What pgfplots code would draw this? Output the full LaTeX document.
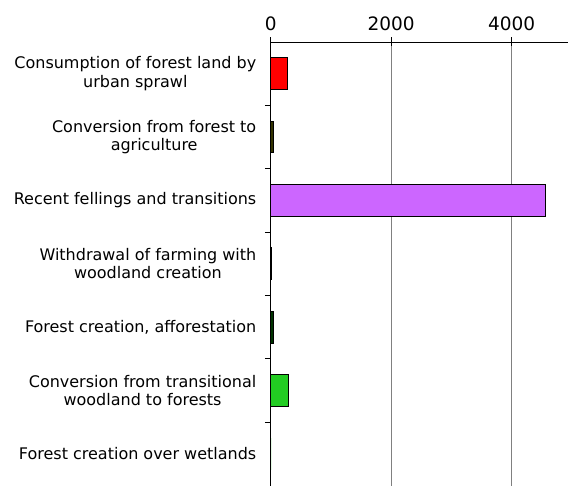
\documentclass[border=0pt]{standalone}
\usepackage{pgfplots}
\pgfplotsset{compat=1.18}
\usepackage{fontspec}
\setmainfont{DejaVu Sans}
\definecolor{barred}{HTML}{FF0000}
\definecolor{barolive}{HTML}{333300}
\definecolor{barpurple}{HTML}{CC66FF}
\definecolor{bardkgreen}{HTML}{003300}
\definecolor{bargreen}{HTML}{22CC22}
\begin{document}
\begin{tikzpicture}
    \begin{axis}[
        scale only axis,
        width = 297pt,
        height = 444pt,
        xmin = 0, xmax = 4930,
        ymin = -0.5, ymax = 6.5,
        axis x line* = top,
        axis y line* = left,
        axis line style = { line width = 0.9pt },
        xbar,
        bar width = 0.5,
        bar shift = 0pt,
        xtick = { 0, 2000, 4000 },
        xticklabel style = { font = \fontsize{18.5}{21}\selectfont, yshift = 3pt },
        /pgf/number format/1000 sep = {},
        /pgf/number format/assume math mode = true,
        x tick style = { line width = 0.9pt, black },
        xtick align = center,
        major tick length = 9pt,
        xmajorgrids,
        major grid style = { gray, line width = 0.9pt },
        ytick = { 0, ..., 6 },
        yticklabels = {
            Forest creation over wetlands,
            {Conversion from transitional\\woodland to forests},
            {Forest creation, afforestation},
            {Withdrawal of farming with\\woodland creation},
            Recent fellings and transitions,
            {Conversion from forest to\\agriculture},
            {Consumption of forest land by\\urban sprawl}
        },
        yticklabel style = {
            font = \fontsize{16}{18.5}\selectfont,
            align = center,
            xshift = -2pt
        },
        y tick style = { draw = none },
        minor ytick = { 0.5, 1.5, ..., 5.5 },
        minor y tick style = { draw = black, line width = 0.9pt },
        ytick align = outside,
        minor tick length = 6pt,
        clip = false
    ]
        \addplot[fill = barred, draw = black, line width = 0.9pt]
            coordinates { (280,6) };
        \addplot[fill = barolive, draw = black, line width = 0.9pt]
            coordinates { (40,5) };
        \addplot[fill = barpurple, draw = black, line width = 0.9pt]
            coordinates { (4560,4) };
        \addplot[fill = black, draw = black, line width = 0.9pt]
            coordinates { (10,3) };
        \addplot[fill = bardkgreen, draw = black, line width = 0.9pt]
            coordinates { (40,2) };
        \addplot[fill = bargreen, draw = black, line width = 0.9pt]
            coordinates { (300,1) };
        \addplot[fill = bargreen, draw = black, line width = 0.9pt]
            coordinates { (0,0) };
    \end{axis}
    \path ([xshift=-271pt]current axis.south west)
        rectangle ([yshift=42pt]current axis.north east);
\end{tikzpicture}
\end{document}
